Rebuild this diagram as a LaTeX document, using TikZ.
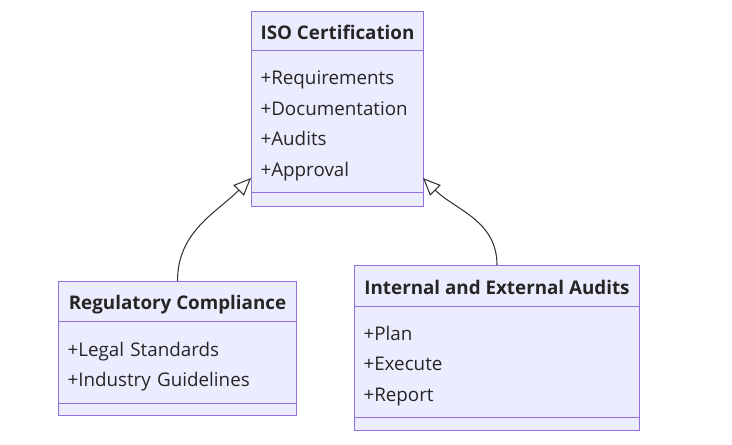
\documentclass[tikz,border=0pt]{standalone}
\usepackage{fontspec}
\setmainfont{Open Sans}
\usepackage{tikz}
\usetikzlibrary{positioning,arrows.meta}
\definecolor{classfill}{HTML}{ECECFF}
\definecolor{classline}{HTML}{9370DB}
\definecolor{edgeline}{HTML}{333333}
\begin{document}
\begin{tikzpicture}[x=0.02cm,y=-0.02cm,
  part/.style={draw=classline,fill=classfill,line width=0.6pt,rectangle,
    inner sep=0pt,anchor=north west},
  head/.style={part,font=\fontsize{10.7}{12}\selectfont\bfseries,text=black!85,
    text height=9.2pt,text depth=0pt},
  body/.style={part,font=\fontsize{10.7}{17.4}\selectfont,text=black!85,align=left,
    inner xsep=0.18cm,execute at begin node={\rule{0pt}{12.7pt}}},
  inherit/.style={draw=edgeline,line width=0.6pt,
    -{Triangle[open,length=10pt,width=8.5pt]}}]
\useasboundingbox (0,0) rectangle (732,444);
% ISO Certification
\node[head,minimum width=3.44cm,minimum height=0.78cm] (isoH) at (251,11) {ISO Certification};
\node[body,text width=3.08cm,minimum height=2.84cm] (isoB) at (251,50)
  {+Requirements\\+Documentation\\+Audits\\+Approval};
\node[part,minimum width=3.44cm,minimum height=0.28cm] (isoF) at (251,192) {};
% Regulatory Compliance
\node[head,minimum width=4.76cm,minimum height=0.8cm] (regH) at (58,281) {Regulatory Compliance};
\node[body,text width=4.40cm,minimum height=1.64cm] (regB) at (58,321)
  {+Legal Standards\\+Industry Guidelines};
\node[part,minimum width=4.76cm,minimum height=0.24cm] (regF) at (58,403) {};
% Internal and External Audits
\node[head,minimum width=5.70cm,minimum height=0.82cm] (intH) at (354,265) {Internal and External Audits};
\node[body,text width=5.34cm,minimum height=2.22cm] (intB) at (354,306)
  {+Plan\\+Execute\\+Report};
\node[part,minimum width=5.70cm,minimum height=0.26cm] (intF) at (354,417) {};
% inheritance
\coordinate (isoL) at (251,178);
\coordinate (isoR) at (423,178);
\draw[inherit] (regH.north) to[out=90,in=-135] (isoL);
\draw[inherit] (intH.north) to[out=90,in=-45] (isoR);
\end{tikzpicture}
\end{document}
